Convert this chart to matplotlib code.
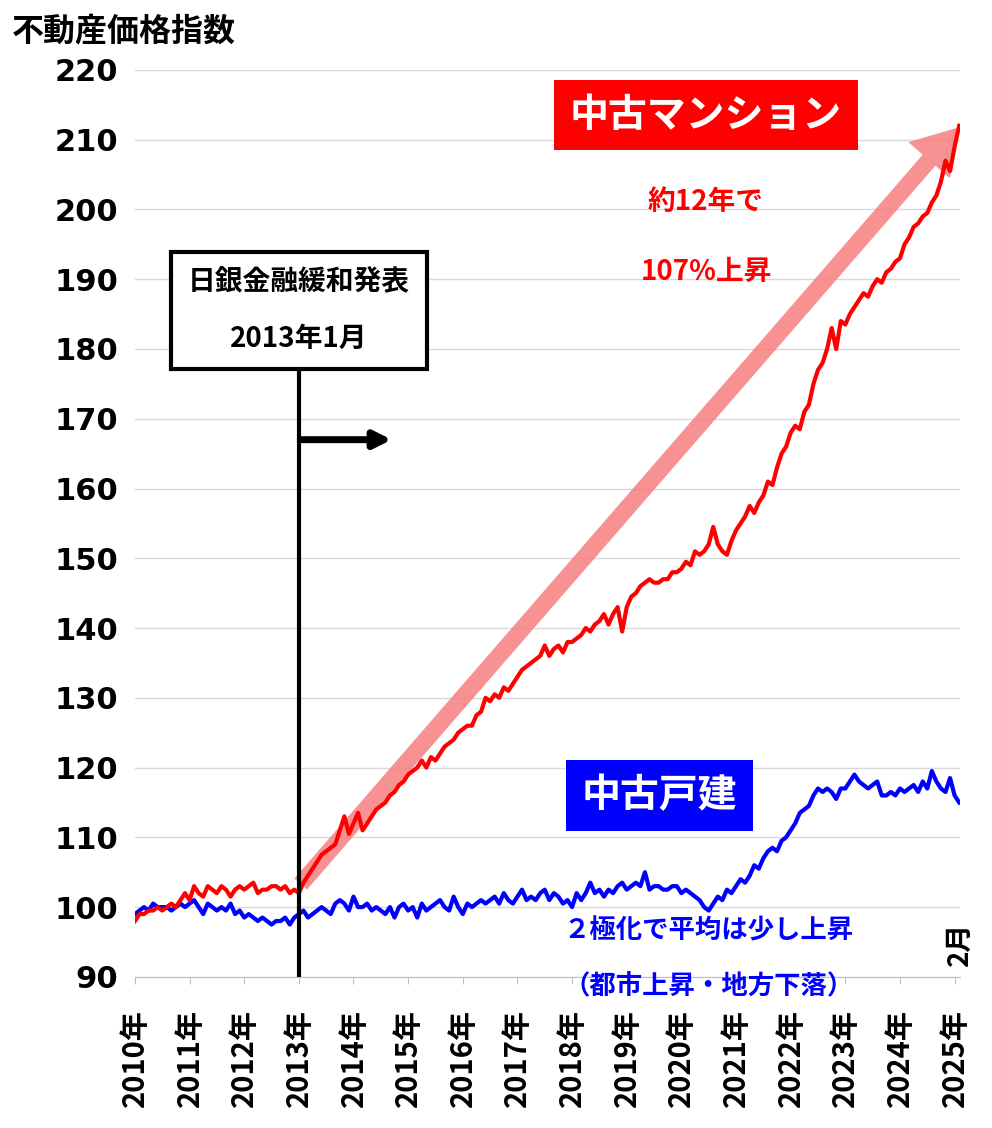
import matplotlib
matplotlib.use("Agg")
import matplotlib.pyplot as plt
import numpy as np

plt.rcParams['font.family'] = ['Noto Sans CJK JP']
plt.rcParams['font.weight'] = 'bold'

mansion = [
 98,99,99,99.5,99.5,100,99.5,100,100.5,100,101,102,
 101,103,102,101.5,103,102.5,102,103,102.5,101.5,102.5,103,
 102.5,103,103.5,102,102.5,102.5,103,103,102.5,103,102,102.5,
 102,103.5,104.5,105.5,106.5,107.5,108,108.5,109,111,113,110.5,
 112,113.5,111,112,113,114,114.5,115,116,116.5,117.5,118,
 119,119.5,120,121,120,121.5,121,122,123,123.5,124,125,
 125.5,126,126,127.5,128,130,129.5,130.5,130,131.5,131,132,
 133,134,134.5,135,135.5,136,137.5,136,137,137.5,136.5,138,
 138,138.5,139,140,139.5,140.5,141,142,140.5,142,143,139.5,
 143,144.5,145,146,146.5,147,146.5,146.5,147,147,148,148,
 148.5,149.5,149,151,150.5,151,152,154.5,152,151,150.5,152.5,
 154,155,156,157.5,156.5,158,159,161,160.5,163,165,166,
 168,169,168.5,171,172,175,177,178,180,183,180,184,
 183.5,185,186,187,188,187.5,189,190,189.5,191,191.5,192.5,
 193,195,196,197.5,198,199,199.5,201,202,204,207,205.5,
 209,212]
kodate = [
 99,99.5,100,99.5,100.5,100,100,100,99.5,100,100.5,100,
 100.5,101,100,99,100.5,100,99.5,100,99.5,100.5,99,99.5,
 98.5,99,98.5,98,98.5,98,97.5,98,98,98.5,97.5,98.5,
 99,99.5,98.5,99,99.5,100,99.5,99,100.5,101,100.5,99.5,
 101.5,100,100,100.5,99.5,100,99.5,99,100,98.5,100,100.5,
 99.5,100,98.5,100.5,99.5,100,100.5,101,100,99.5,101.5,100,
 99,100.5,100,100.5,101,100.5,101,101.5,100.5,102,101,100.5,
 101.5,102.5,101,101.5,101,102,102.5,101,102,101.5,100.5,101,
 100,102,101,102,103.5,102,102.5,101.5,102.5,102,103,103.5,
 102.5,103,103.5,103,105,102.5,103,103,102.5,102.5,103,103,
 102,102.5,102,101.5,101,100,99.5,100.5,101.5,101,102.5,102,
 103,104,103.5,104.5,106,105.5,107,108,108.5,108,109.5,110,
 111,112,113.5,114,114.5,116,117,116.5,117,116.5,115.5,117,
 117,118,119,118,117.5,117,117.5,118,116,116,116.5,116,
 117,116.5,117,117.5,116.5,118,117,119.5,118,117,116.5,118.5,
 116,115]
years = list(range(2010, 2026))
x = 2010 + np.arange(len(mansion)) / 12.0

fig = plt.figure(figsize=(9.92, 11.28), dpi=100)
ax = fig.add_axes([0.136, 0.134, 0.832, 0.804])
ax.set_xlim(2010, 2025 + 1/12 + 0.02)
ax.set_ylim(90, 220)
ax.set_yticks(range(90, 221, 10))
ax.grid(axis='y', color='#d9d9d9', lw=1)
ax.set_axisbelow(True)
for s in ['top', 'right', 'left']:
    ax.spines[s].set_visible(False)
ax.spines['bottom'].set_color('#bfbfbf')
ax.tick_params(axis='y', length=0, labelsize=22, pad=12)
ax.set_xticks(years)
ax.set_xticklabels([f"{y}年" for y in years], rotation=90, fontsize=21)
ax.tick_params(axis='x', length=5, color='#bfbfbf', pad=18)
for t in ax.get_yticklabels():
    t.set_fontfamily('DejaVu Sans'); t.set_fontweight('bold')

# big pink arrow
ax.annotate('', xy=(2025.08, 212), xytext=(2013.0, 103),
            arrowprops=dict(arrowstyle='simple,head_width=1.8,head_length=1.4,tail_width=0.55',
                            color='#f77f7f', alpha=0.85, lw=0, mutation_scale=22), zorder=2)

ax.plot(x, kodate, color='#0000ff', lw=3, zorder=3)
ax.plot(x, mansion, color='#ff0000', lw=3, zorder=4)

# BOJ line and box
ax.plot([2013, 2013], [90, 177.6], color='black', lw=3, zorder=5)
ax.annotate('', xy=(2014.75, 167), xytext=(2013, 167),
            arrowprops=dict(arrowstyle='-|>,head_width=0.5,head_length=1.0', color='black', lw=5), zorder=5)
ax.text(2013, 185.5, "日銀金融緩和発表\n\n2013年1月", ha='center', va='center', fontsize=20,
        linespacing=1.0,
        bbox=dict(boxstyle='square,pad=0.6', fc='white', ec='black', lw=3), zorder=6)

ax.text(2020.45, 213.5, "中古マンション", ha='center', va='center', fontsize=28, color='white',
        bbox=dict(boxstyle='square,pad=0.4', fc='#ff0000', ec='none'))
ax.text(2020.45, 201, "約12年で", ha='center', va='center', fontsize=20, color='#ff0000')
ax.text(2020.45, 191, "107%上昇", ha='center', va='center', fontsize=20, color='#ff0000')

ax.text(2019.6, 116, "中古戸建", ha='center', va='center', fontsize=28, color='white',
        bbox=dict(boxstyle='square,pad=0.4', fc='#0000ff', ec='none'))
ax.text(2020.5, 96.5, "２極化で平均は少し上昇", ha='center', va='center', fontsize=19, color='#0000ff')
ax.text(2020.5, 88.5, "（都市上昇・地方下落）", ha='center', va='center', fontsize=19, color='#0000ff',
        clip_on=False)
ax.text(2025.1, 91.5, "2月", ha='center', va='bottom', fontsize=20, rotation=90, clip_on=False)

fig.text(0.012, 0.972, "不動産価格指数", fontsize=23, ha='left', va='center')
fig.savefig("out.png", dpi=100)
